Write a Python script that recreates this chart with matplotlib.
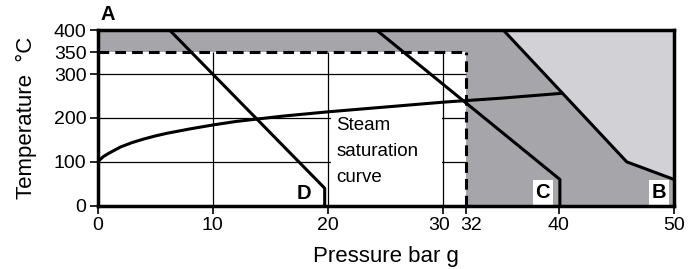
import matplotlib
matplotlib.use("Agg")
from matplotlib import pyplot as plt
from matplotlib.patches import Rectangle
from matplotlib.transforms import ScaledTranslation

plt.rcParams['font.family'] = ['Liberation Sans', 'DejaVu Sans']

# saturation curve (bar g, deg C)
sat_p = [0, 0.5, 1, 2, 3, 4, 5, 6, 8, 10, 12, 14, 16, 18, 20, 25, 30, 35, 40.2]
sat_t = [100, 112, 120, 134, 144, 152, 159, 165, 175, 184, 192, 198, 204, 209, 214, 225, 236, 245, 256]

# limit lines
b_p = [35.2, 45.9, 50]
b_t = [400, 100, 60]
c_p = [24.2, 40.1, 40.1]
c_t = [400, 60, 0]
d_p = [6.25, 19.7, 19.7]
d_t = [400, 40, 0]

limit_p = 32
limit_t = 350

xticks = [0, 10, 20, 30, 32, 40, 50]
yticks = [0, 100, 200, 300, 350, 400]
grid_x = [10, 20, 30]
grid_y = [100, 200, 300]

dark = "#a6a5aa"
light = "#d2d1d6"

fig = plt.figure(figsize=(6.92, 2.69), dpi=100)
ax = fig.add_axes([0.141, 0.235, 0.833, 0.653])
ax.set_xlim(0, 50)
ax.set_ylim(0, 400)
ax.set_facecolor(light)

# shaded zones
ax.fill([0, 0] + b_p + [50], [0, 400] + b_t + [0], color=dark, lw=0, zorder=1)
ax.fill_between([0, limit_p], 0, limit_t, color="white", lw=0, zorder=1.5)

# grid inside white zone
ax.vlines(grid_x, 0, limit_t, color="black", lw=0.9, zorder=2)
ax.hlines(grid_y, 0, limit_p, color="black", lw=0.9, zorder=2)

# label background
ax.add_patch(Rectangle((20.25, 0), 9.6, 208, color="white", lw=0, zorder=2.5))
ax.text(20.7, 183, "Steam", fontsize=13.5, va="center", zorder=3)
ax.text(20.7, 124, "saturation", fontsize=13.5, va="center", zorder=3)
ax.text(20.7, 64, "curve", fontsize=13.5, va="center", zorder=3)

# dashed limits
ax.plot([0, limit_p], [limit_t, limit_t], color="black", lw=2.2, ls=(0, (3.5, 2)), zorder=4)
ax.plot([limit_p, limit_p], [0, limit_t], color="black", lw=2.2, ls=(0, (3.5, 2)), zorder=4)

ax.plot(sat_p, sat_t, color="black", lw=2.2, zorder=5)
ax.plot(b_p, b_t, color="black", lw=2.2, zorder=5)
ax.plot(c_p, c_t, color="black", lw=2.2, zorder=5)
ax.plot(d_p, d_t, color="black", lw=2.2, zorder=5)

box = dict(facecolor="white", edgecolor="none", pad=2)
ax.text(17.9, 28, "D", fontsize=14.5, fontweight="bold", ha="center", va="center", zorder=6)
ax.text(38.6, 30, "C", fontsize=14.5, fontweight="bold", ha="center", va="center", bbox=box, zorder=6)
ax.text(48.7, 30, "B", fontsize=14.5, fontweight="bold", ha="center", va="center", bbox=box, zorder=6)
ax.text(0.25, 414, "A", fontsize=14.5, fontweight="bold", ha="left", va="bottom", clip_on=False)

for s in ax.spines.values():
    s.set_linewidth(2.5)
    s.set_zorder(7)

ax.set_xticks(xticks)
ax.set_yticks(yticks)
ax.tick_params(labelsize=14, width=1.2, length=6, direction="out", pad=2)
ax.set_xlabel("Pressure bar g", fontsize=16, labelpad=9)
ax.set_ylabel("Temperature  °C", fontsize=16, labelpad=12)

# push the 30 / 32 labels apart a little
fig.canvas.draw()
for lab in ax.get_xticklabels():
    if lab.get_text() == "30":
        lab.set_transform(lab.get_transform() + ScaledTranslation(-3 / 72, 0, fig.dpi_scale_trans))
    elif lab.get_text() == "32":
        lab.set_transform(lab.get_transform() + ScaledTranslation(3 / 72, 0, fig.dpi_scale_trans))

fig.savefig("out.png", dpi=100)
